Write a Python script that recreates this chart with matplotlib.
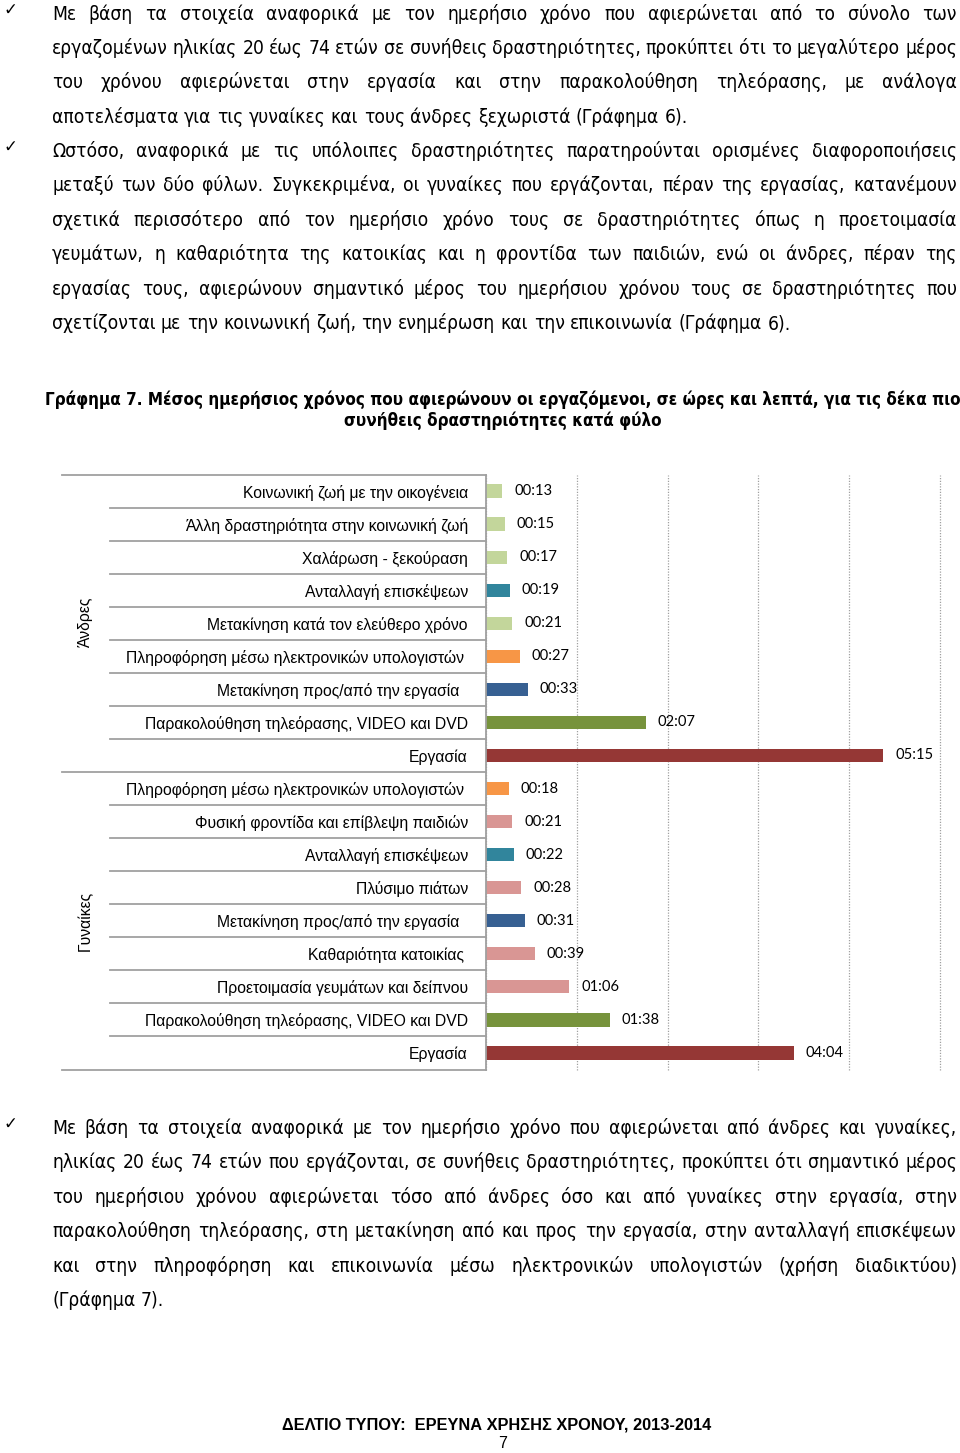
import os
import matplotlib
matplotlib.use('Agg')
import matplotlib.pyplot as plt
from matplotlib import font_manager as fm

W, H = 960, 1453

# δεδομένα γραφήματος
men_labels = ['Κοινωνική ζωή με την οικογένεια', 'Άλλη δραστηριότητα στην κοινωνική ζωή',
              'Χαλάρωση - ξεκούραση', 'Ανταλλαγή επισκέψεων',
              'Μετακίνηση κατά τον ελεύθερο χρόνο', 'Πληροφόρηση μέσω ηλεκτρονικών υπολογιστών ',
              'Μετακίνηση προς/από την εργασία  ', 'Παρακολούθηση τηλεόρασης, VIDEO και DVD',
              'Εργασία']
men_times = ['00:13', '00:15', '00:17', '00:19', '00:21', '00:27', '00:33', '02:07', '05:15']
women_labels = ['Πληροφόρηση μέσω ηλεκτρονικών υπολογιστών ', 'Φυσική φροντίδα και επίβλεψη παιδιών',
                'Ανταλλαγή επισκέψεων', 'Πλύσιμο πιάτων', 'Μετακίνηση προς/από την εργασία  ',
                'Καθαριότητα κατοικίας ', 'Προετοιμασία γευμάτων και δείπνου',
                'Παρακολούθηση τηλεόρασης, VIDEO και DVD', 'Εργασία']
women_times = ['00:18', '00:21', '00:22', '00:28', '00:31', '00:39', '01:06', '01:38', '04:04']
groups = ['Άνδρες', 'Γυναίκες']

# χρώματα ανά είδος δραστηριότητας
pal = {'social': '#C3D69B', 'visit': '#31859C', 'pc': '#F79646', 'commute': '#376092',
       'tv': '#77933C', 'work': '#953735', 'home': '#D99694'}
men_kind = ['social', 'social', 'social', 'visit', 'social', 'pc', 'commute', 'tv', 'work']
women_kind = ['pc', 'home', 'visit', 'home', 'commute', 'home', 'home', 'tv', 'work']

# κείμενο σελίδας
para1 = ['Με βάση τα στοιχεία αναφορικά με τον ημερήσιο χρόνο που αφιερώνεται από το σύνολο των',
         'εργαζομένων ηλικίας 20 έως 74 ετών σε συνήθεις δραστηριότητες, προκύπτει ότι το μεγαλύτερο μέρος',
         'του χρόνου αφιερώνεται στην εργασία και στην παρακολούθηση τηλεόρασης, με ανάλογα',
         'αποτελέσματα για τις γυναίκες και τους άνδρες ξεχωριστά (Γράφημα 6).']
para2 = ['Ωστόσο, αναφορικά με τις υπόλοιπες δραστηριότητες παρατηρούνται ορισμένες διαφοροποιήσεις',
         'μεταξύ των δύο φύλων. Συγκεκριμένα, οι γυναίκες που εργάζονται, πέραν της εργασίας, κατανέμουν',
         'σχετικά περισσότερο από τον ημερήσιο χρόνο τους σε δραστηριότητες όπως η προετοιμασία',
         'γευμάτων, η καθαριότητα της κατοικίας και η φροντίδα των παιδιών, ενώ οι άνδρες, πέραν της',
         'εργασίας τους, αφιερώνουν σημαντικό μέρος του ημερήσιου χρόνου τους σε δραστηριότητες που',
         'σχετίζονται με την κοινωνική ζωή, την ενημέρωση και την επικοινωνία (Γράφημα 6).']
para3 = ['Με βάση τα στοιχεία αναφορικά με τον ημερήσιο χρόνο που αφιερώνεται από άνδρες και γυναίκες,',
         'ηλικίας 20 έως 74 ετών που εργάζονται, σε συνήθεις δραστηριότητες, προκύπτει ότι σημαντικό μέρος',
         'του ημερήσιου χρόνου αφιερώνεται τόσο από άνδρες όσο και από γυναίκες στην εργασία, στην',
         'παρακολούθηση τηλεόρασης, στη μετακίνηση από και προς την εργασία, στην ανταλλαγή επισκέψεων',
         'και στην πληροφόρηση και επικοινωνία μέσω ηλεκτρονικών υπολογιστών (χρήση διαδικτύου)',
         '(Γράφημα 7).']
title = ['Γράφημα 7. Μέσος ημερήσιος χρόνος που αφιερώνουν οι εργαζόμενοι, σε ώρες και λεπτά, για τις δέκα πιο',
         'συνήθεις δραστηριότητες κατά φύλο']
footer = 'ΔΕΛΤΙΟ ΤΥΠΟΥ:  ΕΡΕΥΝΑ ΧΡΗΣΗΣ ΧΡΟΝΟΥ, 2013-2014'
page_no = '7'


def narrow_font(bold=False):
    # κάτι σαν Arial Narrow, αν υπάρχει
    if bold:
        names = ['LiberationSansNarrow-Bold.ttf', 'NotoSans-CondensedBold.ttf',
                 'DejaVuSansCondensed-Bold.ttf', 'LiberationSans-Bold.ttf']
    else:
        names = ['LiberationSansNarrow-Regular.ttf', 'NotoSans-Condensed.ttf',
                 'DejaVuSansCondensed.ttf', 'LiberationSans-Regular.ttf']
    found = {os.path.basename(f.fname): f.fname for f in fm.fontManager.ttflist}
    for n in names:
        if n in found:
            return fm.FontProperties(fname=found[n])
    return fm.FontProperties(family='Liberation Sans', weight='bold' if bold else 'normal')


body_fp = narrow_font()
bold_fp = narrow_font(True)

fig = plt.figure(figsize=(W / 100, H / 100), dpi=100)
page = fig.add_axes([0, 0, 1, 1])
page.set_xlim(0, W)
page.set_ylim(H, 0)
page.axis('off')
renderer = fig.canvas.get_renderer()


def measure(s, fp, size):
    t = page.text(0, 0, s, fontproperties=fp, fontsize=size)
    w = t.get_window_extent(renderer).width
    t.remove()
    return w


def natural_width(line, fp, size):
    words = line.split(' ')
    sp = measure('a a', fp, size) - measure('aa', fp, size)
    return sum(measure(w, fp, size) for w in words) + sp * (len(words) - 1)


LEFT, RIGHT = 52, 957
all_lines = para1[:-1] + para2[:-1] + para3[:-1]
widest = max(natural_width(l, body_fp, 10) for l in all_lines)
body_size = 10 * (RIGHT - LEFT) / widest


def draw_par(lines, y0, step=34.4):
    sp = measure('a a', body_fp, body_size) - measure('aa', body_fp, body_size)
    page.text(10, y0 - 5, '✓', fontsize=12, family='DejaVu Sans', ha='center', va='baseline')
    for i, line in enumerate(lines):
        y = y0 + i * step
        words = line.split(' ')
        ws = [measure(w, body_fp, body_size) for w in words]
        if i < len(lines) - 1 and len(words) > 1:
            gap = (RIGHT - LEFT - sum(ws)) / (len(words) - 1)
        else:
            gap = sp
        x = LEFT
        for w, wd in zip(words, ws):
            page.text(x, y, w, fontproperties=body_fp, fontsize=body_size, va='baseline')
            x += wd + gap


draw_par(para1, 19.5)
draw_par(para2, 157)
draw_par(para3, 1134)

# τίτλος
title_size = 10 * (958 - 47) / measure(title[0], bold_fp, 10)
page.text(503, 405, title[0], fontproperties=bold_fp, fontsize=title_size, ha='center', va='baseline')
page.text(503, 426, title[1], fontproperties=bold_fp, fontsize=title_size, ha='center', va='baseline')

# υποσέλιδο
page.text(497, 1425, footer, family='Liberation Sans', weight='bold', fontsize=11.8, ha='center', va='center')
page.text(503, 1444, page_no, family='Liberation Sans', fontsize=11.5, ha='center', va='center')

# γράφημα
x0, x1, y0, y1 = 486, 940, 474.5, 1069.5
ax = fig.add_axes([x0 / W, 1 - y1 / H, (x1 - x0) / W, (y1 - y0) / H])
ax.set_facecolor('none')

labels = men_labels + women_labels
times = men_times + women_times
minutes = [int(t[:2]) * 60 + int(t[3:]) for t in times]
colors = [pal[k] for k in men_kind + women_kind]
rows = list(range(len(labels)))

bars = ax.barh(rows, minutes, height=0.4, color=colors)
ax.bar_label(bars, labels=times, padding=8.5, family='Lato', fontsize=10.6)
ax.set_xlim(0, 360)
ax.set_ylim(len(labels) - 0.5, -0.5)
ax.set_xticks(range(0, 361, 72))
ax.xaxis.grid(True, linestyle=(0, (1, 1.2)), color='#a0a0a0', lw=0.9)
for gl in ax.get_xgridlines():
    gl.set_clip_on(False)
ax.set_axisbelow(True)
ax.tick_params(axis='x', length=0, labelbottom=False)
ax.set_yticks(rows, labels, family='Liberation Sans', fontsize=11.3)
ax.tick_params(axis='y', length=0, pad=13)
for s in ['top', 'right', 'bottom']:
    ax.spines[s].set_visible(False)
ax.spines['left'].set_color('#a0a0a0')
ax.spines['left'].set_linewidth(1.3)

trans = ax.get_yaxis_transform()
n = len(men_labels)
for b in range(len(labels) + 1):
    yb = b - 0.5
    xs = -0.934 if b in (0, n, len(labels)) else -0.828
    ax.plot([xs, 0], [yb, yb], transform=trans, clip_on=False, color='#a0a0a0', lw=1.3)

ax.text(-0.883, (n - 1) / 2, groups[0], transform=trans, rotation=90,
        ha='center', va='center', family='Liberation Sans', fontsize=11.3)
ax.text(-0.883, n + (len(women_labels) - 1) / 2, groups[1], transform=trans, rotation=90,
        ha='center', va='center', family='Liberation Sans', fontsize=11.3)

fig.savefig('out.png', dpi=100)
